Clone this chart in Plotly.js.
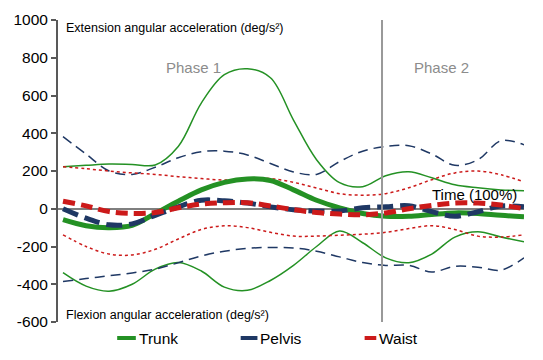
<!DOCTYPE html>
<html><head><meta charset="utf-8">
<script src="https://cdn.plot.ly/plotly-3.0.1.min.js"></script>
<style>html,body{margin:0;padding:0;background:#fff}#chart{width:543px;height:360px}</style>
</head><body><div id="chart"></div>
<script>
const timePct = [0,5,10,15,20,25,30,35,40,45,50,55,60,65,70,75,80,85,90,95,100];
const trunkMean  = [-58,-90,-100,-88,-25,40,100,140,158,150,100,45,5,-25,-40,-40,-30,-22,-25,-35,-42];
const trunkUpper = [222,230,237,235,232,330,560,710,742,694,470,260,138,117,175,196,164,127,111,100,95];
const trunkLower = [-339,-410,-437,-400,-320,-285,-330,-415,-432,-380,-300,-200,-118,-180,-260,-286,-240,-150,-122,-150,-175];
const pelvisMean  = [0,-50,-85,-80,-35,10,45,42,30,10,-5,-12,-12,5,10,16,-15,-40,-16,14,10];
const pelvisUpper = [382,290,200,182,220,270,302,305,285,240,195,182,250,305,330,334,290,230,260,360,339];
const pelvisLower = [-385,-370,-355,-340,-320,-286,-250,-225,-210,-205,-208,-225,-255,-285,-300,-300,-335,-305,-310,-325,-260];
const waistMean  = [40,15,-15,-25,-20,5,25,32,32,15,-5,-20,-28,-32,-22,0,18,30,30,20,0];
const waistUpper = [222,212,200,190,182,170,160,152,158,160,140,110,80,72,80,111,154,190,200,180,143];
const waistLower = [-138,-200,-240,-245,-215,-160,-110,-90,-100,-125,-145,-145,-140,-135,-125,-105,-90,-110,-145,-150,-138];
const yTicks = [-600,-400,-200,0,200,400,600,800,1000];
const seriesNames = ['Trunk','Pelvis','Waist'];
const phaseSplit = 69.2;

const GREEN = '#249124', NAVY = '#1f3864', RED = '#cc1a1a';
function tr(y, color, width, dash){
  return {x: timePct, y: y, type:'scatter', mode:'lines', showlegend:false, hoverinfo:'skip',
          line:{color:color, width:width, dash:dash, shape:'spline', smoothing:1}};
}
const data = [
  tr(trunkUpper, GREEN, 1.5, 'solid'),
  tr(trunkLower, GREEN, 1.5, 'solid'),
  tr(pelvisUpper, NAVY, 1.5, '10px,6px'),
  tr(pelvisLower, NAVY, 1.5, '10px,6px'),
  tr(waistUpper, RED, 1.5, '3px,3px'),
  tr(waistLower, RED, 1.5, '3px,3px'),
  tr(trunkMean, GREEN, 5, 'solid'),
  tr(pelvisMean, NAVY, 5, '16px,7px'),
  tr(waistMean, RED, 5, '12px,6px')
];

const F = 'Liberation Sans, Arial, sans-serif';
const legendX = [0.127, 0.392, 0.658];
const legendColors = [GREEN, NAVY, RED];
const legendLen = [0.040, 0.036, 0.025];
const shapes = [
  {type:'line', xref:'x', yref:'y', x0:phaseSplit, x1:phaseSplit, y0:-600, y1:1005, line:{color:'#999999', width:2}}
];
const annotations = [
  {xref:'paper', yref:'paper', x:0.013, y:0.973, xanchor:'left', yanchor:'middle', showarrow:false,
   text:'Extension angular acceleration (deg/s²)', font:{family:F, size:12.5, color:'#000'}},
  {xref:'paper', yref:'paper', x:0.013, y:0.023, xanchor:'left', yanchor:'middle', showarrow:false,
   text:'Flexion angular acceleration (deg/s²)', font:{family:F, size:12.5, color:'#000'}},
  {xref:'x', yref:'y', x:28.2, y:747, showarrow:false, text:'Phase 1', font:{family:F, size:15, color:'#8c8c8c'}},
  {xref:'x', yref:'y', x:82.2, y:747, showarrow:false, text:'Phase 2', font:{family:F, size:15, color:'#8c8c8c'}},
  {xref:'x', yref:'y', x:89.2, y:74, showarrow:false, text:'Time (100%)', font:{family:F, size:15, color:'#000'}}
];
seriesNames.forEach((n,i)=>{
  shapes.push({type:'line', xref:'paper', yref:'paper', x0:legendX[i], x1:legendX[i]+legendLen[i], y0:-0.053, y1:-0.053,
               line:{color:legendColors[i], width:4}});
  annotations.push({xref:'paper', yref:'paper', x:legendX[i]+legendLen[i]+0.002, y:-0.053, xanchor:'left', yanchor:'middle',
                    showarrow:false, text:n, font:{family:F, size:15.5, color:'#000'}});
});

const layout = {
  width:543, height:360,
  margin:{l:58, r:19, t:20, b:38},
  paper_bgcolor:'#fff', plot_bgcolor:'#fff',
  showlegend:false,
  xaxis:{range:[-1.085,100], showgrid:false, zeroline:false, showline:false, showticklabels:false, ticks:''},
  yaxis:{range:[-600,1000], tickvals:yTicks, ticktext:yTicks.map(String), showgrid:false,
         zeroline:true, zerolinecolor:'#7f7f7f', zerolinewidth:2,
         showline:true, linecolor:'#595959', linewidth:2, ticks:'outside', ticklen:5, tickcolor:'#595959', tickwidth:2,
         tickfont:{family:F, size:15.5, color:'#000'}},
  shapes:shapes, annotations:annotations
};
Plotly.newPlot('chart', data, layout, {displayModeBar:false, staticPlot:true});
</script></body></html>
